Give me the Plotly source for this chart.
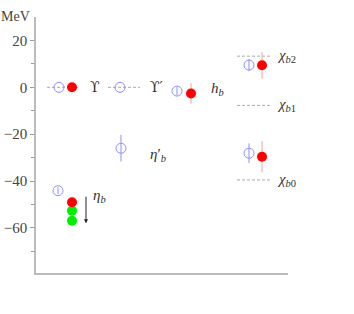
import plotly.graph_objects as go

# ---- data (MeV, relative to reference levels) ----
# experimental reference levels (dashed lines)
exp_names = ["Υ", "Υ'", "χb2", "χb1", "χb0"]
exp_values = [0.0, 0.0, 13.3, -7.7, -39.5]

# open blue circles (lattice set A)
open_names = ["Υ", "Υ'", "hb", "χb2", "χb0", "ηb", "ηb'"]
open_values = [0.0, 0.0, -1.6, 9.5, -28.1, -44.1, -26.0]
open_errors = [0.0, 0.0, 1.8, 2.6, 4.2, 1.5, 5.7]

# filled red circles (lattice set B)
red_names = ["Υ", "hb", "χb2", "χb0", "ηb"]
red_values = [0.0, -2.6, 9.4, -29.6, -49.0]
red_errors = [0.0, 4.4, 5.7, 6.7, 0.0]

# green circles (ηb, corrected)
green_values = [-52.6, -56.9]
green_errors = [0.0, 2.5]

# ---- layout positions (x in plot units) ----
pos_exp = {"Υ": (11, 42), "Υ'": (72, 104), "χb2": (201, 234), "χb1": (201, 234), "χb0": (201, 234)}
pos_open = {"Υ": 23, "Υ'": 84, "hb": 141, "χb2": 213, "χb0": 213, "ηb": 22, "ηb'": 85}
pos_red = {"Υ": 36, "hb": 155, "χb2": 226, "χb0": 226, "ηb": 36}
pos_green = 36

blue = "#8f8fff"
red = "#ff0000"
red_light = "#ff9a9a"
green = "#00ee00"
gray = "#aaaaaa"

fig = go.Figure()

for n, v in zip(exp_names, exp_values):
    x0, x1 = pos_exp[n]
    fig.add_trace(go.Scatter(x=[x0, x1], y=[v, v], mode="lines",
                             line=dict(color=gray, width=1, dash="3px,2px"),
                             showlegend=False, hoverinfo="skip"))

fig.add_trace(go.Scatter(
    x=[pos_open[n] for n in open_names], y=open_values, mode="markers",
    marker=dict(symbol="circle-open", size=10, color=blue, line=dict(width=1, color=blue)),
    error_y=dict(type="data", array=open_errors, color=blue, thickness=1, width=0),
    showlegend=False))

fig.add_trace(go.Scatter(
    x=[pos_green] * len(green_values), y=green_values, mode="markers",
    marker=dict(symbol="circle", size=10, color=green),
    error_y=dict(type="data", array=green_errors, color="#88ff88", thickness=1, width=0),
    showlegend=False))

fig.add_trace(go.Scatter(
    x=[pos_red[n] for n in red_names], y=red_values, mode="markers",
    marker=dict(symbol="circle", size=10, color=red),
    error_y=dict(type="data", array=red_errors, color=red_light, thickness=1, width=0),
    showlegend=False))

serif = "DejaVu Serif, Liberation Serif, serif"
lserif = "Liberation Serif, DejaVu Serif, serif"
labels = [
    (52, 0.0, "ϒ", serif, 14),
    (112, 0.0, "ϒ′", serif, 14),
    (173, -0.5, "<i>h</i><sub><i>b</i></sub>", lserif, 15),
    (239, 13.3, "<i>χ</i><sub><i>b</i>2</sub>", lserif, 15),
    (239, -7.7, "<i>χ</i><sub><i>b</i>1</sub>", lserif, 15),
    (239, -39.5, "<i>χ</i><sub><i>b</i>0</sub>", lserif, 15),
    (55, -46.4, "<i>η</i><sub><i>b</i></sub>", lserif, 15),
    (112, -28.7, "<i>η</i>′<sub><i>b</i></sub>", lserif, 15),
]
for x, y, t, f, s in labels:
    fig.add_annotation(x=x, y=y, text=t, showarrow=False, xanchor="left",
                       font=dict(family=f, size=s, color="#333333"))

# arrow under eta_b
fig.add_annotation(x=50, y=-58.0, ax=50, ay=-46.0, axref="x", ayref="y",
                   text="", showarrow=True, arrowhead=2, arrowsize=0.8,
                   arrowwidth=1, arrowcolor="#222222")

fig.add_annotation(x=0, y=1.0, xref="paper", yref="paper", xshift=-37, yshift=10,
                   text="MeV", showarrow=False, xanchor="left",
                   font=dict(family=lserif, size=14, color="#444444"))

fig.update_layout(
    width=354, height=314,
    margin=dict(l=36, r=66, t=17, b=41),
    plot_bgcolor="white", paper_bgcolor="white",
    xaxis=dict(range=[0, 252], showgrid=False, zeroline=False, showticklabels=False,
               ticks="", showline=True, linecolor="#bbbbbb", linewidth=1.5, fixedrange=True,
               automargin=False),
    yaxis=dict(range=[-79.2, 30], showgrid=False, zeroline=False, automargin=False,
               tickvals=[20, 0, -20, -40, -60], ticktext=["20", "0", "−20", "−40", "−60"],
               ticks="outside", ticklen=4, tickcolor="#999999",
               minor=dict(tickvals=[10, -10, -30, -50, -70], ticks="outside", ticklen=3, tickcolor="#999999"),
               showline=True, linecolor="#bbbbbb", linewidth=1.5,
               tickfont=dict(family=lserif, size=15, color="#444444")),
)

fig.write_html("out.html", config={"displayModeBar": False},
               post_script="document.body.style.margin='0';")
